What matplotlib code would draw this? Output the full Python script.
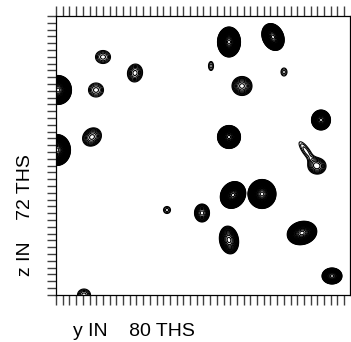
import numpy as np
import matplotlib
matplotlib.use("Agg")
import matplotlib.pyplot as plt
from matplotlib.ticker import MultipleLocator

plt.rcParams['font.family'] = ['Liberation Sans', 'DejaVu Sans']

# Peak table (axis units ~ pixels, y measured downward from top of spectrum)
peak_x = [2, 1, 47, 79, 40, 36, 111, 146, 155, 173, 217, 228, 186, 173, 265, 261, 250, 177, 206, 173, 246, 276, 28]
peak_y = [74, 134, 41, 57, 74, 121, 194, 197, 50, 26, 21, 56, 70, 121, 104, 150, 135, 179, 178, 224, 217, 260, 279]
peak_rx = [13.5, 13.5, 7.5, 7.5, 7.5, 10, 3.5, 7.5, 2.5, 11.5, 10.5, 3, 10, 11.5, 9.5, 9, 3.5, 12, 14, 9.5, 15, 10, 6.5]
peak_ry = [14.5, 15.5, 6.5, 9, 7, 8.5, 3.5, 9, 4.5, 15, 14, 4, 9.5, 11.5, 10, 8, 11, 14, 14.5, 14, 11.5, 8, 6]
peak_angle = [0, 0, 0, 10, 0, -40, 45, 0, 0, 0, -25, 0, 0, 0, 0, 0, -35, 35, 0, -10, -15, 0, 0]
peak_levels = [28, 28, 4, 6, 4, 7, 2, 9, 2, 30, 26, 2, 8, 26, 20, 6, 2, 30, 30, 13, 22, 18, 4]

x_label = "y IN    80 THS"
z_label = "z IN    72 THS"

level_ratio = 1.25
n_levels = 40
x_range = (0, 294)
y_range = (0, 279)

W, H = 351, 342
fig = plt.figure(figsize=(W / 100, H / 100), dpi=100)
ax = fig.add_axes([56 / W, (H - 295) / H, 294 / W, 279 / H])

xs = np.linspace(x_range[0], x_range[1], 900)
ys = np.linspace(y_range[0], y_range[1], 860)
X, Y = np.meshgrid(xs, ys)
Z = np.zeros_like(X)
for px, py, rx, ry, ang, nl in zip(peak_x, peak_y, peak_rx, peak_ry, peak_angle, peak_levels):
    amp = level_ratio ** (nl + 0.5)
    q = 2 * np.log(amp)
    sx, sy = rx / np.sqrt(q), ry / np.sqrt(q)
    t = np.deg2rad(ang)
    dx, dy = X - px, Y - py
    u = dx * np.cos(t) + dy * np.sin(t)
    v = -dx * np.sin(t) + dy * np.cos(t)
    Z += amp * np.exp(-0.5 * ((u / sx) ** 2 + (v / sy) ** 2))

levels = level_ratio ** np.arange(0, n_levels)
ax.contour(X, Y, Z, levels=levels, colors='black', linewidths=0.8)

ax.set_xlim(*x_range)
ax.set_ylim(y_range[1], y_range[0])

ax.xaxis.set_major_locator(MultipleLocator(6.7))
ax.yaxis.set_major_locator(MultipleLocator(6.8))
ax.tick_params(axis='x', which='both', direction='out', length=7.5, width=1.0,
               color='0.25', top=True, bottom=True, labelbottom=False, labeltop=False)
ax.tick_params(axis='y', which='both', direction='out', length=6.5, width=1.0,
               color='0.25', left=True, right=False, labelleft=False)
for s in ax.spines.values():
    s.set_linewidth(0.9)
    s.set_color('black')

fig.text(73 / W, 1 - 336 / H, x_label, fontsize=14, ha='left', va='baseline')
fig.text(26 / W, 1 - 215 / H, z_label, fontsize=14, ha='center', va='center', rotation=90)

fig.savefig("out.png", dpi=100)
